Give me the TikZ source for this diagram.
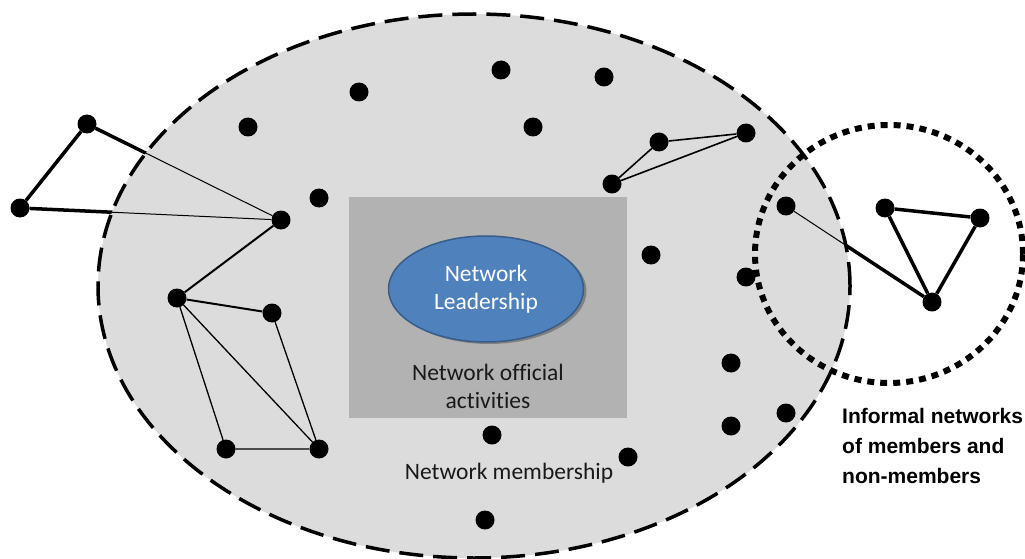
\documentclass[tikz,border=0pt]{standalone}
\usepackage{fontspec}
\setsansfont{Carlito}[Ligatures=NoCommon]
\newfontfamily\labelfont{Liberation Sans}
\usetikzlibrary{shapes.geometric,shadows,positioning}
\pgfdeclarelayer{back}
\pgfdeclarelayer{fill}
\pgfsetlayers{back,fill,main}
\definecolor{member}{RGB}{220,220,220}
\definecolor{official}{RGB}{178,178,178}
\definecolor{leadblue}{RGB}{79,129,189}
\definecolor{leadedge}{RGB}{56,93,138}
\begin{document}
\begin{tikzpicture}[x=1pt, y=-1pt,
        dot/.style={circle, fill=black, inner sep=0pt, minimum size=19pt},
        tie/.style={line width=3.5pt},
        link/.style={line width=2pt},
        weak/.style={line width=1pt},
        txt/.style={font=\sffamily\fontsize{23.5}{28}\selectfont, align=center, inner sep=0pt}
    ]
    \useasboundingbox (0,0) rectangle (1025,559);
    % membership area
    \begin{pgfonlayer}{fill}
        \draw[fill=member, line width=3.5pt, dash pattern=on 24pt off 10pt] (474,286) ellipse [x radius=376pt, y radius=272pt];
    \end{pgfonlayer}
    \node[fill=official, minimum width=278pt, minimum height=221pt, inner sep=0pt] (official) at (488,307) {};
    \node[ellipse, fill=leadblue, draw=leadedge, line width=1.5pt, minimum width=195pt, minimum height=106pt,
        drop shadow={shadow xshift=3pt, shadow yshift=-2pt, fill=gray, opacity=1},
        txt, text=white] (lead) at (486,289) {Network\\Leadership};
    \node[txt, text=black!90] (acts) at (488,386) {Network official\\activities};
    \node[txt, text=black!90] (mship) at (509,473) {Network membership};
    % informal circle
    \draw[line width=6pt, dash pattern=on 7pt off 6pt] (889,254) ellipse [x radius=134pt, y radius=129pt];
    \node[font=\labelfont\bfseries\fontsize{21}{30}\selectfont, align=left, anchor=base west, inner sep=0pt] (informal) at (842,483) {Informal networks\\of members and\\non-members};
    % members
    \node[dot] (a) at (87,124) {};
    \node[dot] (b) at (20,208) {};
    \node[dot] (c) at (281,220) {};
    \node[dot] (d) at (177,298) {};
    \node[dot] (e) at (272,313) {};
    \node[dot] (f) at (226,449) {};
    \node[dot] (g) at (319,449) {};
    \node[dot] (t1) at (248,127) {};
    \node[dot] (t2) at (359,92) {};
    \node[dot] (t3) at (501,70) {};
    \node[dot] (t4) at (604,77) {};
    \node[dot] (t5) at (533,127) {};
    \node[dot] (t6) at (319,198) {};
    \node[dot] (h) at (659,142) {};
    \node[dot] (i) at (746,133) {};
    \node[dot] (j) at (612,184) {};
    \node[dot] (r1) at (651,255) {};
    \node[dot] (r2) at (746,277) {};
    \node[dot] (r3) at (731,363) {};
    \node[dot] (r4) at (786,413) {};
    \node[dot] (r5) at (731,426) {};
    \node[dot] (r6) at (628,457) {};
    \node[dot] (r7) at (492,435) {};
    \node[dot] (r8) at (485,520) {};
    \node[dot] (k) at (786,206) {};
    \node[dot] (l) at (885,208) {};
    \node[dot] (m) at (980,218) {};
    \node[dot] (n) at (932,302) {};
    % ties
    \begin{pgfonlayer}{back}
        \draw[tie] (a) -- (c);
        \draw[tie] (b) -- (c);
        \draw[tie] (k) -- (n);
    \end{pgfonlayer}
    \draw[tie] (a) -- (b);
    \draw[weak] (a) -- (c);
    \draw[weak] (b) -- (c);
    \draw[link] (c) -- (d) -- (e);
    \draw[weak, line width=1.3pt] (d) -- (f) -- (g) -- (e);
    \draw[weak, line width=1.3pt] (d) -- (g);
    \draw[weak, line width=1.6pt] (j) -- (h) -- (i) -- (j);
    \draw[weak] (k) -- (n);
    \draw[tie] (l) -- (m) -- (n) -- (l);
\end{tikzpicture}
\end{document}
